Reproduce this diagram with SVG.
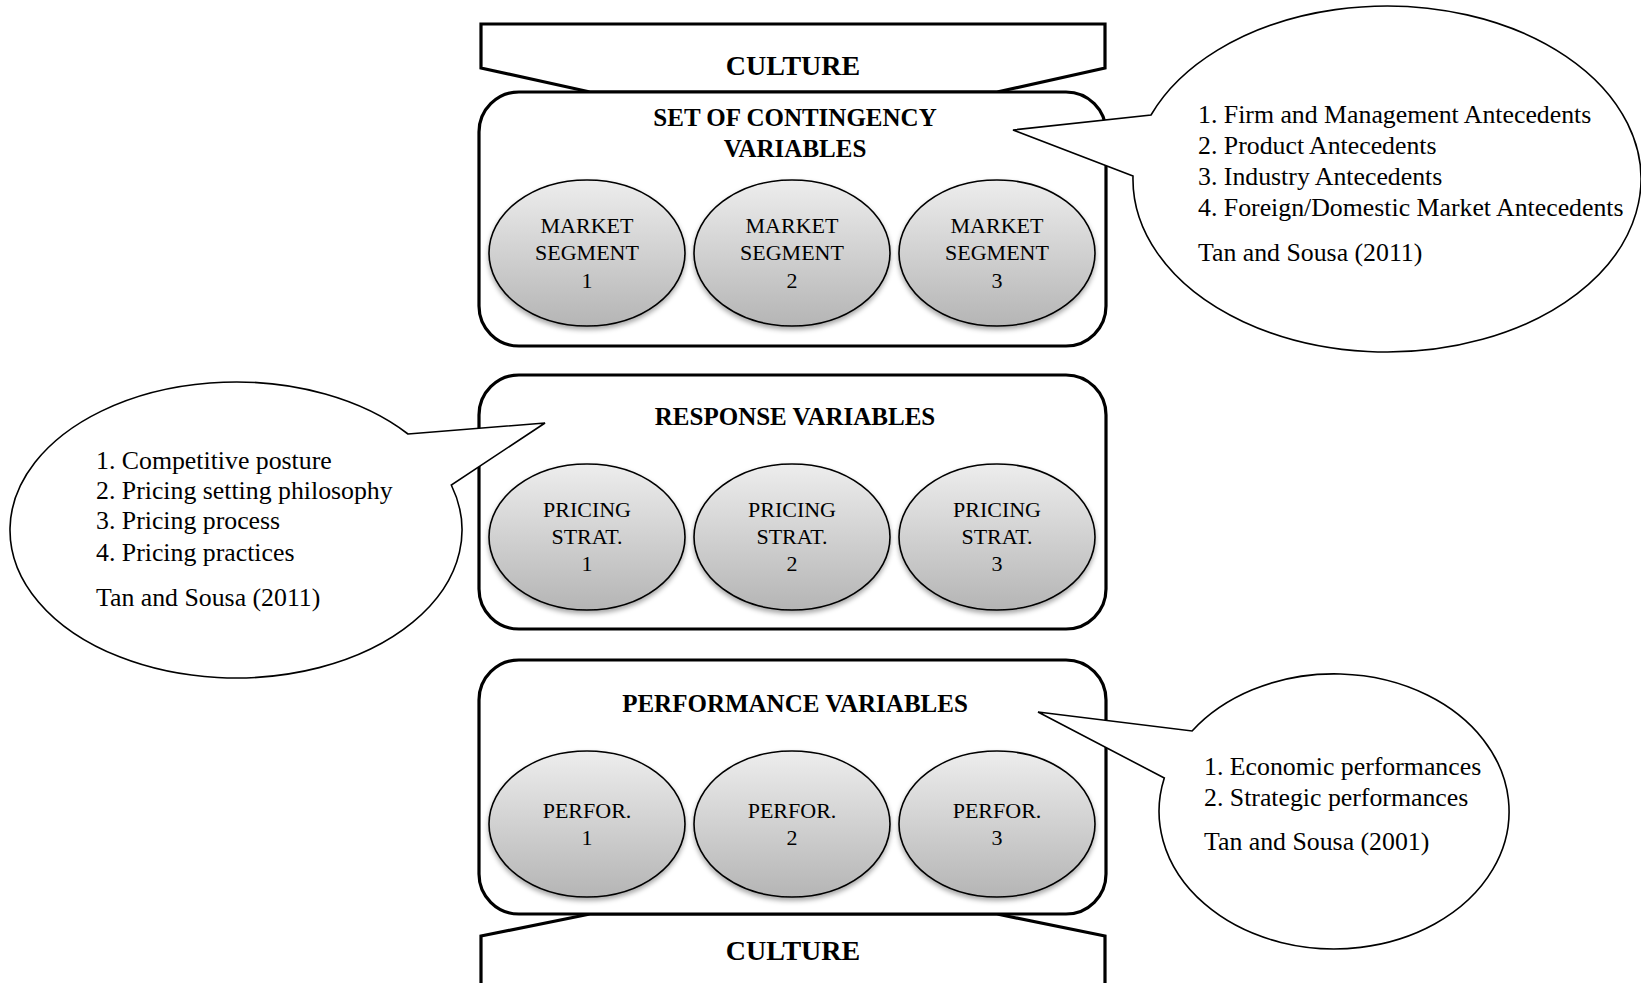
<svg xmlns="http://www.w3.org/2000/svg" width="1641" height="983" viewBox="0 0 1641 983">
<style>
.box{fill:#fff;stroke:#000;stroke-width:3.2}
.banner{fill:#fff;stroke:#000;stroke-width:3.2;stroke-linejoin:miter}
.oval{fill:url(#g);stroke:#000;stroke-width:1.6;filter:url(#sh)}
.call{fill:#fff;stroke:#000;stroke-width:1.6;stroke-linejoin:miter}
.t{font-family:"Liberation Serif","Times New Roman",serif;fill:#000}
.title{font-size:25px;font-weight:bold;text-anchor:middle}
.cult{font-size:28px;font-weight:bold;text-anchor:middle}
.lab{font-size:22px;text-anchor:middle}
.ct{font-size:25.8px}
</style>
<defs>
<linearGradient id="g" x1="0" y1="0" x2="0" y2="1">
<stop offset="0" stop-color="#ededed"/>
<stop offset="1" stop-color="#b5b5b5"/>
</linearGradient>
<filter id="sh" x="-20%" y="-20%" width="140%" height="150%">
<feDropShadow dx="0" dy="3" stdDeviation="2.5" flood-color="#000" flood-opacity="0.35"/>
</filter>
</defs>

<g id="culture-top">
<path class="banner" d="M481 24 L1105 24 L1105 68 L997 92 L590 92 L481 68 Z"/>
<text class="t cult" x="793" y="75">CULTURE</text>
</g>

<g id="culture-bottom">
<path class="banner" d="M590 914 L481 936 L481 995 L1105 995 L1105 936 L997 914 Z"/>
<text class="t cult" x="793" y="960">CULTURE</text>
</g>

<g id="contingency">
<rect class="box" x="479" y="92" width="627" height="254" rx="40"/>
<text class="t title" x="795" y="126">SET OF CONTINGENCY</text>
<text class="t title" x="795" y="157">VARIABLES</text>
</g>
<g id="market1">
<ellipse class="oval" cx="587" cy="253" rx="98" ry="73"/>
<text class="t lab" x="587" y="233">MARKET</text>
<text class="t lab" x="587" y="260">SEGMENT</text>
<text class="t lab" x="587" y="288">1</text>
</g>
<g id="market2">
<ellipse class="oval" cx="792" cy="253" rx="98" ry="73"/>
<text class="t lab" x="792" y="233">MARKET</text>
<text class="t lab" x="792" y="260">SEGMENT</text>
<text class="t lab" x="792" y="288">2</text>
</g>
<g id="market3">
<ellipse class="oval" cx="997" cy="253" rx="98" ry="73"/>
<text class="t lab" x="997" y="233">MARKET</text>
<text class="t lab" x="997" y="260">SEGMENT</text>
<text class="t lab" x="997" y="288">3</text>
</g>

<g id="response">
<rect class="box" x="479" y="375" width="627" height="254" rx="40"/>
<text class="t title" x="795" y="425">RESPONSE VARIABLES</text>
</g>
<g id="pricing1">
<ellipse class="oval" cx="587" cy="537" rx="98" ry="73"/>
<text class="t lab" x="587" y="517">PRICING</text>
<text class="t lab" x="587" y="544">STRAT.</text>
<text class="t lab" x="587" y="571">1</text>
</g>
<g id="pricing2">
<ellipse class="oval" cx="792" cy="537" rx="98" ry="73"/>
<text class="t lab" x="792" y="517">PRICING</text>
<text class="t lab" x="792" y="544">STRAT.</text>
<text class="t lab" x="792" y="571">2</text>
</g>
<g id="pricing3">
<ellipse class="oval" cx="997" cy="537" rx="98" ry="73"/>
<text class="t lab" x="997" y="517">PRICING</text>
<text class="t lab" x="997" y="544">STRAT.</text>
<text class="t lab" x="997" y="571">3</text>
</g>

<g id="performance">
<rect class="box" x="479" y="660" width="627" height="254" rx="40"/>
<text class="t title" x="795" y="712">PERFORMANCE VARIABLES</text>
</g>
<g id="perf1">
<ellipse class="oval" cx="587" cy="824" rx="98" ry="73"/>
<text class="t lab" x="587" y="818">PERFOR.</text>
<text class="t lab" x="587" y="845">1</text>
</g>
<g id="perf2">
<ellipse class="oval" cx="792" cy="824" rx="98" ry="73"/>
<text class="t lab" x="792" y="818">PERFOR.</text>
<text class="t lab" x="792" y="845">2</text>
</g>
<g id="perf3">
<ellipse class="oval" cx="997" cy="824" rx="98" ry="73"/>
<text class="t lab" x="997" y="818">PERFOR.</text>
<text class="t lab" x="997" y="845">3</text>
</g>

<g id="connectors">
<path class="call" d="M1133 176 L1013 130 L1151 115 A254 173 0 1 1 1133 176 Z"/>
<path class="call" d="M408 434 L545 423 L451.3 485 A226 148 0 1 1 408 434 Z"/>
<path class="call" d="M1164.3 778 L1038 712 L1192.1 731 A175 137.5 0 1 1 1164.3 778 Z"/>
</g>

<g id="callout-contingency">
<text class="t ct" x="1198" y="123">1. Firm and Management Antecedents</text>
<text class="t ct" x="1198" y="154">2. Product Antecedents</text>
<text class="t ct" x="1198" y="185">3. Industry Antecedents</text>
<text class="t ct" x="1198" y="216">4. Foreign/Domestic Market Antecedents</text>
<text class="t ct" x="1198" y="261">Tan and Sousa (2011)</text>
</g>
<g id="callout-response">
<text class="t ct" x="96" y="469">1. Competitive posture</text>
<text class="t ct" x="96" y="499">2. Pricing setting philosophy</text>
<text class="t ct" x="96" y="529">3. Pricing process</text>
<text class="t ct" x="96" y="561">4. Pricing practices</text>
<text class="t ct" x="96" y="606">Tan and Sousa (2011)</text>
</g>
<g id="callout-performance">
<text class="t ct" x="1204" y="775">1. Economic performances</text>
<text class="t ct" x="1204" y="806">2. Strategic performances</text>
<text class="t ct" x="1204" y="850">Tan and Sousa (2001)</text>
</g>
</svg>
